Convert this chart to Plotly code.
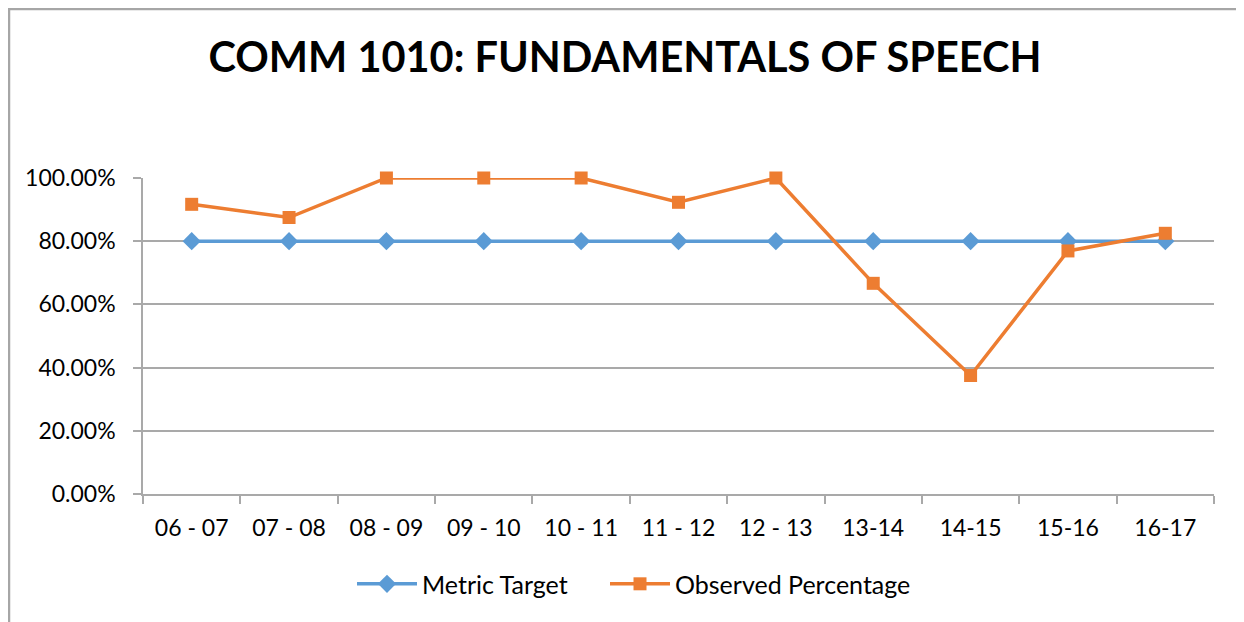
import plotly.graph_objects as go

years = ["06 - 07", "07 - 08", "08 - 09", "09 - 10", "10 - 11", "11 - 12",
         "12 - 13", "13-14", "14-15", "15-16", "16-17"]
metric_target = [0.80] * 11
observed_pct = [0.9167, 0.875, 1.0, 1.0, 1.0, 0.9231, 1.0, 0.6667, 0.375, 0.7692, 0.825]

BLUE = "#5b9bd5"
ORANGE = "#ed7d31"
GRID = "#a9a9a9"
FONT = "Lato, 'Open Sans', sans-serif"

# plot area in figure pixels (page body adds an 8px offset)
L, T, W, H = 135, 170, 1071, 316

fig = go.Figure()

fig.add_trace(go.Scatter(
    x=years, y=metric_target, name="Metric Target",
    mode="lines+markers", cliponaxis=False, legend="legend",
    line=dict(color=BLUE, width=3.5),
    marker=dict(symbol="diamond", size=14, color=BLUE),
))
fig.add_trace(go.Scatter(
    x=years, y=observed_pct, name="Observed Percentage",
    mode="lines+markers", cliponaxis=False, legend="legend2",
    line=dict(color=ORANGE, width=3.5),
    marker=dict(symbol="square", size=13, color=ORANGE),
))

legend_style = dict(orientation="h", xanchor="left", y=-0.285, yanchor="middle",
                    font=dict(size=25), itemwidth=60)

fig.update_layout(
    width=1244, height=622,
    paper_bgcolor="white", plot_bgcolor="white",
    font=dict(family=FONT, size=23, color="black"),
    title=dict(
        text="<b>COMM 1010: FUNDAMENTALS OF SPEECH</b>",
        x=0.496, xanchor="center", y=0.921, yanchor="middle",
        font=dict(size=41.5, family=FONT),
    ),
    margin=dict(l=L, r=1244 - L - W, t=T, b=622 - T - H),
    showlegend=True,
    legend=dict(x=(349 - 5 - L) / W, **legend_style),
    legend2=dict(x=(602 - 5 - L) / W, **legend_style),
    xaxis=dict(
        range=[-0.5, len(years) - 0.5],
        showgrid=False, showline=True, linecolor=GRID, linewidth=1.5,
        ticks="outside", tickson="boundaries", ticklen=8, tickcolor=GRID,
        tickwidth=1.5, ticklabelstandoff=13,
    ),
    yaxis=dict(
        range=[0, 1], tickvals=[0, 0.2, 0.4, 0.6, 0.8, 1.0],
        tickformat=".2%", showgrid=True, gridcolor=GRID, gridwidth=1.5,
        showline=True, linecolor=GRID, linewidth=1.5,
        ticks="outside", ticklen=8, tickcolor=GRID, tickwidth=1.5,
        zeroline=False, ticklabelstandoff=13,
    ),
    shapes=[dict(
        type="rect", xref="paper", yref="paper",
        x0=(1 - L) / W, x1=(1231 - L) / W, y0=-0.6, y1=(T + H - 1) / H,
        line=dict(color="#a6a6a6", width=2.5), fillcolor="rgba(0,0,0,0)",
        layer="below",
    )],
)

fig.write_html("out.html")
